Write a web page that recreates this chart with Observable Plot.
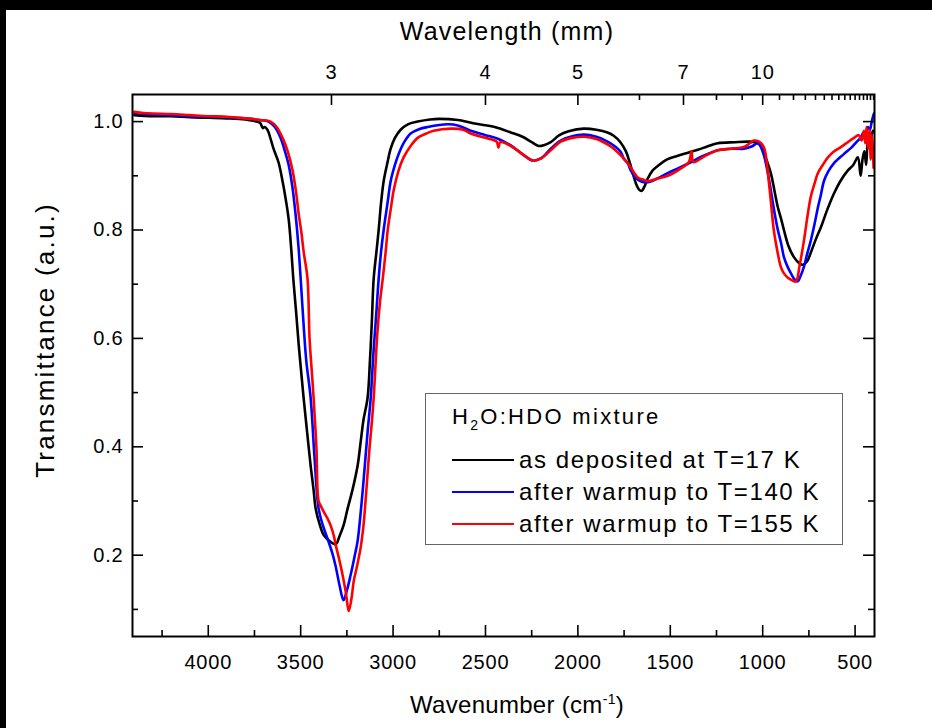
<!DOCTYPE html>
<html>
<head>
<meta charset="utf-8">
<script src="https://cdn.jsdelivr.net/npm/d3@7"></script>
<script src="https://cdn.jsdelivr.net/npm/@observablehq/plot@0.6"></script>
<style>
  html, body { margin: 0; padding: 0; background: #000; }
  body { width: 932px; height: 728px; overflow: hidden; position: relative; }
  #wrap { position: absolute; left: 6px; top: 10px; width: 926px; height: 718px; background: #fff;
          font-family: "Liberation Sans", Arial, sans-serif; color: #000; }
  #wrap svg { position: absolute; left: 0; top: 0; }
  #wrap svg text { letter-spacing: 0.8px; }
  .t { position: absolute; white-space: nowrap; }
  #legend { position: absolute; left: 419px; top: 383px; width: 416px; height: 150px; border: 1.5px solid #666; background: #fff; }
  #legend .row { position: absolute; left: 26px; height: 26px; display: flex; align-items: center; }
  #legend .sw { width: 62px; height: 0; border-top: 2.5px solid; margin-right: 5px; }
  #legend .lab { font-size: 24px; letter-spacing: 1.6px; }
</style>
</head>
<body>
<div id="wrap"></div>
<script>
// ---------- data ----------
const seriesNames = ["as deposited at T=17 K", "after warmup to T=140 K", "after warmup to T=155 K"];
const seriesColors = ["#000000", "#0000ff", "#ff0000"];

const wnBlack = [4400,4300,4200,4100,4000,3900,3800,3750,3720,3705,3695,3680,3660,3647,3620,3598,3580,3565,3550,3540,3525,3511,3495,3484,3466,3446,3430,3419,3400,3375,3340,3310,3290,3268,3246,3220,3192,3175,3160,3138,3125,3115,3105,3090,3078,3065,3051,3030,3013,2990,2959,2920,2867,2800,2750,2650,2550,2450,2363,2300,2250,2212,2180,2147,2100,2050,1968,1900,1840,1806,1770,1740,1720,1703,1685,1670,1655,1640,1622,1595,1568,1520,1459,1400,1351,1300,1243,1150,1080,1040,1010,985,956,935,918,900,885,860,831,800,783,760,740,710,685,650,615,580,539,510,485,470,460,450,440,431,420,410,403];
const tBlack  = [1.012,1.010,1.010,1.008,1.007,1.006,1.004,1.001,0.998,0.988,0.990,0.985,0.965,0.950,0.925,0.890,0.855,0.820,0.760,0.710,0.650,0.590,0.530,0.490,0.430,0.365,0.320,0.286,0.260,0.237,0.225,0.220,0.235,0.255,0.286,0.320,0.365,0.410,0.450,0.490,0.560,0.630,0.710,0.760,0.800,0.850,0.890,0.925,0.950,0.970,0.985,0.995,1.000,1.004,1.005,1.003,0.996,0.990,0.980,0.972,0.962,0.955,0.957,0.962,0.975,0.982,0.987,0.985,0.980,0.974,0.962,0.945,0.925,0.905,0.885,0.875,0.872,0.880,0.895,0.910,0.918,0.930,0.937,0.943,0.948,0.954,0.960,0.962,0.963,0.962,0.956,0.935,0.905,0.870,0.842,0.820,0.800,0.770,0.750,0.738,0.736,0.742,0.758,0.785,0.805,0.838,0.867,0.890,0.910,0.920,0.934,0.900,0.930,0.945,0.920,0.965,0.950,0.975,0.983];

const wnBlue = [4400,4300,4200,4100,4000,3900,3800,3720,3674,3640,3609,3585,3565,3545,3528,3512,3500,3485,3470,3446,3425,3403,3380,3354,3330,3311,3290,3268,3250,3230,3210,3192,3175,3160,3138,3121,3105,3090,3078,3065,3051,3030,3013,2990,2970,2940,2905,2860,2813,2705,2650,2580,2500,2430,2363,2300,2244,2200,2147,2093,2040,1968,1900,1850,1806,1770,1752,1730,1714,1690,1660,1622,1570,1514,1450,1389,1320,1243,1170,1102,1060,1026,1000,975,956,935,918,900,885,865,847,830,810,795,777,760,740,720,701,685,669,645,615,561,520,485,470,455,445,431,420,410,398];
const tBlue  = [1.016,1.013,1.012,1.010,1.009,1.008,1.006,1.003,1.000,0.990,0.970,0.945,0.920,0.880,0.830,0.770,0.710,0.630,0.560,0.490,0.380,0.286,0.255,0.230,0.205,0.180,0.145,0.117,0.135,0.163,0.195,0.226,0.280,0.336,0.427,0.490,0.580,0.650,0.710,0.760,0.800,0.850,0.890,0.920,0.940,0.962,0.978,0.986,0.990,0.995,0.993,0.983,0.975,0.968,0.956,0.940,0.928,0.932,0.950,0.965,0.972,0.976,0.972,0.965,0.956,0.945,0.932,0.923,0.910,0.897,0.890,0.888,0.895,0.905,0.915,0.925,0.937,0.947,0.950,0.950,0.954,0.960,0.945,0.910,0.873,0.830,0.800,0.775,0.750,0.732,0.720,0.710,0.705,0.715,0.732,0.755,0.780,0.810,0.842,0.865,0.890,0.908,0.923,0.940,0.952,0.965,0.970,0.980,0.965,0.990,0.985,1.000,1.015];

const wnRed = [4400,4350,4300,4200,4100,4000,3900,3800,3720,3663,3630,3598,3570,3544,3525,3511,3496,3484,3463,3452,3440,3430,3415,3403,3390,3375,3355,3338,3320,3311,3290,3273,3255,3240,3225,3213,3195,3176,3160,3149,3138,3127,3115,3105,3085,3070,3056,3040,3029,3012,2997,2970,2943,2905,2867,2820,2780,2688,2620,2580,2500,2440,2430,2420,2363,2300,2244,2200,2147,2093,2030,1968,1900,1840,1806,1760,1730,1700,1676,1640,1622,1570,1514,1450,1400,1385,1375,1320,1243,1170,1102,1070,1048,1020,994,980,967,955,940,920,902,885,864,840,820,800,777,760,740,720,701,675,647,615,577,540,506,480,465,452,445,438,430,422,415,408,400];
const tRed  = [1.018,1.016,1.015,1.014,1.012,1.010,1.009,1.006,1.003,1.000,0.990,0.970,0.945,0.910,0.870,0.830,0.795,0.760,0.710,0.600,0.540,0.490,0.400,0.300,0.290,0.280,0.268,0.255,0.235,0.220,0.190,0.163,0.130,0.097,0.120,0.152,0.180,0.213,0.255,0.300,0.350,0.400,0.445,0.490,0.610,0.670,0.710,0.760,0.800,0.840,0.873,0.910,0.934,0.955,0.970,0.978,0.983,0.987,0.985,0.978,0.970,0.963,0.952,0.962,0.955,0.940,0.928,0.932,0.947,0.963,0.970,0.972,0.968,0.958,0.950,0.935,0.923,0.908,0.897,0.892,0.890,0.895,0.900,0.912,0.925,0.945,0.925,0.935,0.947,0.950,0.953,0.960,0.965,0.963,0.953,0.930,0.890,0.850,0.800,0.760,0.732,0.720,0.712,0.707,0.705,0.735,0.780,0.820,0.861,0.885,0.905,0.920,0.934,0.945,0.953,0.962,0.970,0.975,0.965,0.983,0.960,0.990,0.950,0.985,0.930,0.975,0.915];

// axis ticks
const xMajorTicks = [4000, 3500, 3000, 2500, 2000, 1500, 1000, 500];
const xMinorTicks = [4250, 3750, 3250, 2750, 2250, 1750, 1250, 750];
const yMajorTicks = [0.2, 0.4, 0.6, 0.8, 1.0];
const yMinorTicks = [0.1, 0.3, 0.5, 0.7, 0.9];
const topLabeled = [3, 4, 5, 7, 10];               // wavelength (µm) labels
const topMinor = [6, 8, 9, 11, 12, 13, 14, 15, 16, 17, 18, 19, 20, 21, 22, 23, 24, 25];

// ---------- build table ----------
const seriesWn = [wnBlack, wnBlue, wnRed];
const seriesT = [tBlack, tBlue, tRed];
const rows = [];
seriesNames.forEach((name, i) => {
  seriesWn[i].forEach((w, j) => rows.push({series: name, wn: w, t: seriesT[i][j]}));
});

const W = 926, H = 718, mL = 126, mT = 84, mR = 58, mB = 92;
const innerW = W - mL - mR, innerH = H - mT - mB;
const majLen = 11, minLen = 6;

const chart = Plot.plot({
  width: W, height: H,
  marginLeft: mL, marginTop: mT, marginRight: mR, marginBottom: mB,
  style: {fontFamily: "'Liberation Sans', Arial, sans-serif", fontSize: "20px", background: "transparent", overflow: "visible"},
  x: {domain: [4410, 395]},
  y: {domain: [0.05, 1.05]},
  color: {domain: seriesNames, range: seriesColors},
  marks: [
    Plot.line(rows, {x: "wn", y: "t", z: "series", stroke: "series", strokeWidth: 2.6, curve: "catmull-rom"}),
    // bottom ticks (inward)
    Plot.tickX(xMajorTicks, {x: d => d, insetTop: innerH - majLen, stroke: "black", strokeWidth: 1.6}),
    Plot.tickX(xMinorTicks, {x: d => d, insetTop: innerH - minLen, stroke: "black", strokeWidth: 1.6}),
    // top ticks (wavelength, inward)
    Plot.tickX(topLabeled, {x: d => 1e4 / d, insetBottom: innerH - majLen, stroke: "black", strokeWidth: 1.6}),
    Plot.tickX(topMinor, {x: d => 1e4 / d, insetBottom: innerH - minLen, stroke: "black", strokeWidth: 1.6}),
    // left & right ticks (inward)
    Plot.tickY(yMajorTicks, {y: d => d, insetRight: innerW - majLen, stroke: "black", strokeWidth: 1.6}),
    Plot.tickY(yMinorTicks, {y: d => d, insetRight: innerW - minLen, stroke: "black", strokeWidth: 1.6}),
    Plot.tickY(yMajorTicks, {y: d => d, insetLeft: innerW - majLen, stroke: "black", strokeWidth: 1.6}),
    Plot.tickY(yMinorTicks, {y: d => d, insetLeft: innerW - minLen, stroke: "black", strokeWidth: 1.6}),
    Plot.axisX({anchor: "bottom", ticks: xMajorTicks, tickFormat: d => String(d), tickSize: 0, tickPadding: 18, label: null, fontSize: 20}),
    Plot.axisX({anchor: "top", ticks: topLabeled.map(l => 1e4 / l), tickFormat: d => String(Math.round(1e4 / d)), tickSize: 0, tickPadding: 16, label: null, fontSize: 20}),
    Plot.axisY({anchor: "left", ticks: yMajorTicks, tickFormat: d => d.toFixed(1), tickSize: 0, tickPadding: 9, label: null, fontSize: 20}),
    Plot.frame({stroke: "black", strokeWidth: 2})
  ]
});

const wrap = document.getElementById("wrap");
wrap.appendChild(chart);

// axis titles
function addText(html, css) {
  const d = document.createElement("div");
  d.className = "t";
  d.innerHTML = html;
  Object.assign(d.style, css);
  wrap.appendChild(d);
  return d;
}
addText("Wavelength (mm)", {left: "501px", top: "21px", transform: "translate(-50%,-50%)", fontSize: "25px", letterSpacing: "1.2px"});
addText("Wavenumber (cm<sup style='font-size:14px;vertical-align:9px'>-1</sup>)", {left: "511px", top: "695px", transform: "translate(-50%,-50%)", fontSize: "24px", letterSpacing: "0.3px"});
addText("Transmittance (a.u.)", {left: "39px", top: "330px", transform: "translate(-50%,-50%) rotate(-90deg)", fontSize: "26px", letterSpacing: "2.2px"});

// legend
const lg = document.createElement("div");
lg.id = "legend";
wrap.appendChild(lg);
const title = document.createElement("div");
title.className = "t";
title.style.left = "26px"; title.style.top = "10px"; title.style.fontSize = "22px"; title.style.letterSpacing = "2.3px";
title.innerHTML = "H<sub style='font-size:14px;vertical-align:-6px'>2</sub>O:HDO mixture";
lg.appendChild(title);
seriesNames.forEach((name, i) => {
  const r = document.createElement("div");
  r.className = "row";
  r.style.top = (53 + i * 32) + "px";
  const sw = document.createElement("div");
  sw.className = "sw";
  sw.style.borderTopColor = seriesColors[i];
  const lab = document.createElement("span");
  lab.className = "lab";
  lab.textContent = name;
  r.appendChild(sw); r.appendChild(lab);
  lg.appendChild(r);
});
</script>
</body>
</html>
